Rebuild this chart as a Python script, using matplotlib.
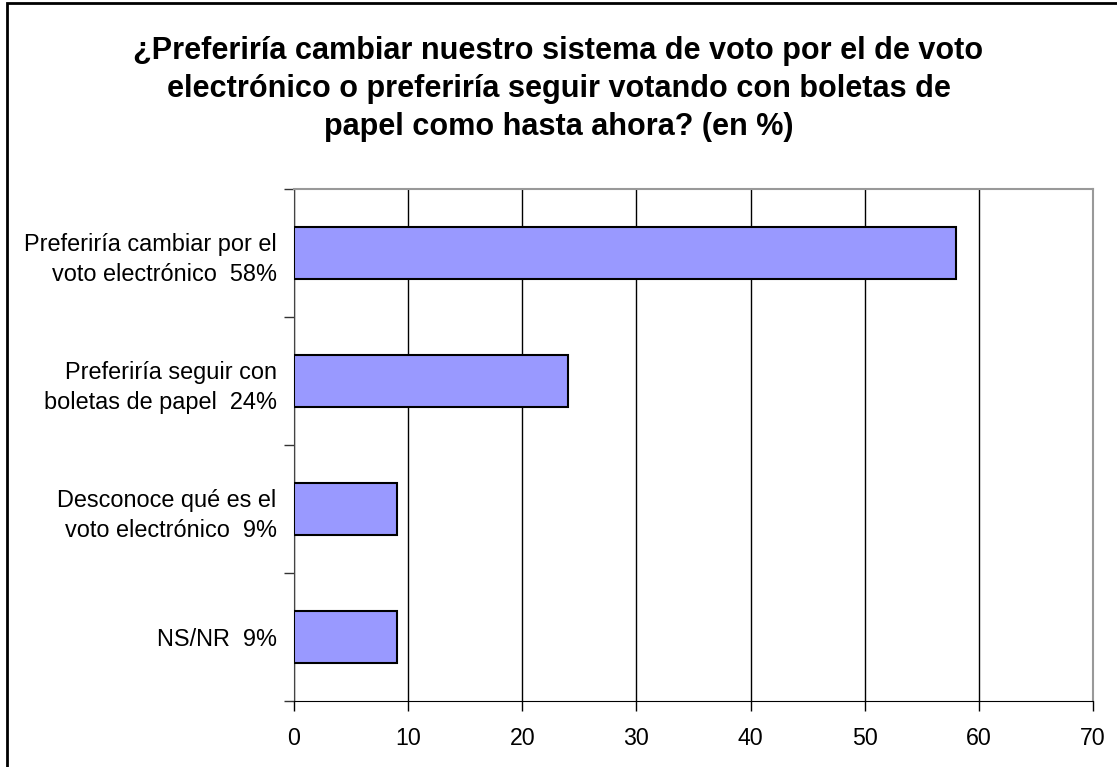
import matplotlib
matplotlib.use("Agg")
import matplotlib.pyplot as plt
from matplotlib.patches import Rectangle

categories = [
    "Preferiría cambiar por el\nvoto electrónico  58%",
    "Preferiría seguir con\nboletas de papel  24%",
    "Desconoce qué es el\nvoto electrónico  9%",
    "NS/NR  9%",
]
values = [58, 24, 9, 9]
xticks = [0, 10, 20, 30, 40, 50, 60, 70]
title = ("¿Preferiría cambiar nuestro sistema de voto por el de voto\n"
         "electrónico o preferiría seguir votando con boletas de\n"
         "papel como hasta ahora? (en %)")

plt.rcParams['font.family'] = ['Liberation Sans', 'DejaVu Sans']

W, H = 1117, 767
fig = plt.figure(figsize=(W / 100, H / 100), dpi=100)
ax = fig.add_axes([294 / W, 1 - 701 / H, (1093 - 294) / W, (701 - 189) / H])

n = len(categories)
ypos = list(range(n))
ax.barh(ypos, values, height=0.4, color="#9999FF", edgecolor="black", linewidth=1.5, zorder=3)
ax.set_ylim(n - 0.5, -0.5)
ax.set_xlim(0, 70)
ax.set_xticks(xticks)
ax.set_xticklabels([str(t) for t in xticks], fontsize=16.7)

ax.set_yticks(ypos)
ax.set_yticklabels(categories, fontsize=16.9, linespacing=1.43)
ax.tick_params(axis='y', which='major', length=0, pad=12.5)
ax.set_yticks([i + 0.5 for i in range(-1, n)], minor=True)
ax.tick_params(axis='y', which='minor', length=7, width=1, color="#333333", direction='out')
ax.tick_params(axis='x', length=7, width=1, direction='out', pad=12)

ax.grid(axis='x', color="black", linewidth=1, zorder=0)
for s in ['top', 'right']:
    ax.spines[s].set_color("#999999")
    ax.spines[s].set_linewidth(1.5)
ax.spines['left'].set_color("#444444")
ax.spines['bottom'].set_color("black")

fig.text(0.5, 1 - 89 / H, title, ha='center', va='center', fontsize=22.1, fontweight='bold', linespacing=1.36)

fig.patches.append(Rectangle((7 / W, -0.1), 1.2, 1 - 3 / H + 0.1, transform=fig.transFigure,
                             fill=False, edgecolor="black", linewidth=2))

fig.savefig("out.png", dpi=100)
